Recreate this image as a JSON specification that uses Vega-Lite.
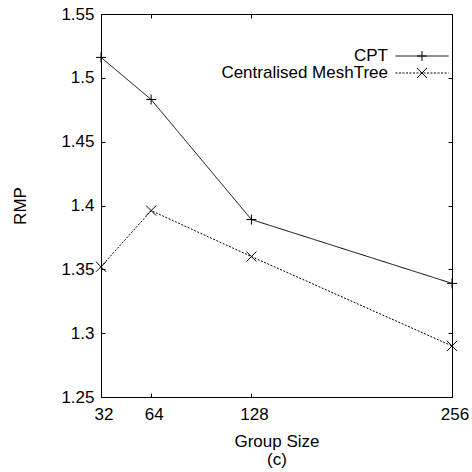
{
  "$schema": "https://vega.github.io/schema/vega-lite/v6.json",
  "width": 351,
  "height": 383,
  "autosize": {"type": "none"},
  "padding": {"left": 101, "top": 14, "right": 20, "bottom": 75},
  "config": {
    "font": "Liberation Sans",
    "view": {"stroke": "#000", "strokeWidth": 1},
    "axis": {
      "grid": false,
      "domain": false,
      "tickColor": "#000",
      "tickSize": -4,
      "tickWidth": 1,
      "labelColor": "#000",
      "labelFontSize": 17,
      "labelFont": "Liberation Sans",
      "labelFlush": false,
      "titleColor": "#000",
      "titleFontSize": 17,
      "titleFontWeight": "normal",
      "titleFont": "Liberation Sans"
    }
  },
  "data": {
    "values": [
      {"size": 32, "rmp": 1.516, "series": "CPT"},
      {"size": 64, "rmp": 1.483, "series": "CPT"},
      {"size": 128, "rmp": 1.389, "series": "CPT"},
      {"size": 256, "rmp": 1.339, "series": "CPT"},
      {"size": 32, "rmp": 1.352, "series": "Centralised MeshTree"},
      {"size": 64, "rmp": 1.396, "series": "Centralised MeshTree"},
      {"size": 128, "rmp": 1.360, "series": "Centralised MeshTree"},
      {"size": 256, "rmp": 1.290, "series": "Centralised MeshTree"}
    ]
  },
  "layer": [
    {
      "mark": {"type": "line", "color": "#000", "strokeWidth": 1},
      "encoding": {
        "x": {
          "field": "size", "type": "quantitative",
          "scale": {"domain": [32, 256], "nice": false, "zero": false},
          "axis": {"orient": "bottom", "values": [32, 64, 128, 256], "labelPadding": 13, "labelOffset": 2.5, "title": ["Group Size", "(c)"], "titlePadding": 11, "titleLineHeight": 18}
        },
        "y": {
          "field": "rmp", "type": "quantitative",
          "scale": {"domain": [1.25, 1.55], "nice": false, "zero": false},
          "axis": {"orient": "left", "values": [1.25, 1.3, 1.35, 1.4, 1.45, 1.5, 1.55], "format": "~g", "labelPadding": 11, "title": "RMP", "titlePadding": 31}
        },
        "strokeDash": {
          "field": "series", "type": "nominal",
          "scale": {"range": [[1, 0], [2, 1.5]]},
          "legend": {
            "orient": "none", "legendX": 312.5, "legendY": 33.5, "title": null,
            "symbolType": "M-5.3,0H5.3", "symbolSize": 100,
            "symbolStrokeColor": "#000", "symbolStrokeWidth": 1,
            "labelAlign": "right", "labelOffset": -42.5, "labelFontSize": 17,
            "labelFont": "Liberation Sans", "labelColor": "#000",
            "labelLimit": 300, "rowPadding": -3.5, "padding": 0
          }
        }
      }
    },
    {
      "mark": {"type": "point", "filled": false, "color": "#000", "strokeWidth": 1, "size": 100, "opacity": 1},
      "encoding": {
        "x": {
          "field": "size", "type": "quantitative",
          "scale": {"domain": [32, 256], "nice": false, "zero": false},
          "axis": {"orient": "top", "values": [32, 64, 128, 256], "labels": false, "title": null}
        },
        "y": {
          "field": "rmp", "type": "quantitative",
          "scale": {"domain": [1.25, 1.55], "nice": false, "zero": false},
          "axis": {"orient": "right", "values": [1.25, 1.3, 1.35, 1.4, 1.45, 1.5, 1.55], "labels": false, "title": null}
        },
        "shape": {
          "field": "series", "type": "nominal",
          "scale": {"domain": ["CPT", "Centralised MeshTree"], "range": ["M-1,0H1M0,-1V1", "M-1,-1L1,1M-1,1L1,-1"]},
          "legend": {
            "orient": "none", "legendX": 312.5, "legendY": 33.5, "title": null,
            "symbolSize": 100, "symbolStrokeColor": "#000", "symbolStrokeWidth": 1,
            "symbolFillColor": "transparent",
            "labelExpr": "''", "labelFontSize": 17, "rowPadding": -3.5, "padding": 0
          }
        }
      }
    }
  ],
  "resolve": {"axis": {"x": "independent", "y": "independent"}}
}
